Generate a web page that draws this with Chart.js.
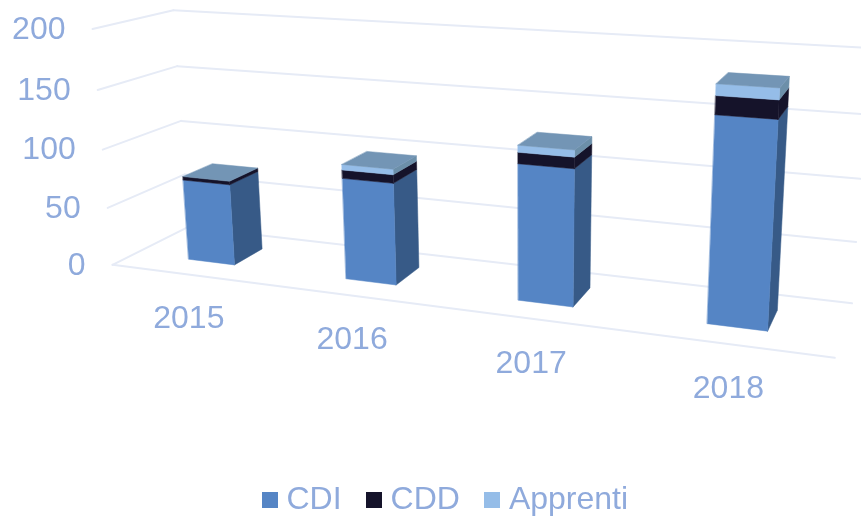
<!DOCTYPE html>
<html><head><meta charset="utf-8">
<style>html,body{margin:0;padding:0;background:#fff;overflow:hidden}canvas{display:block}</style>
<script src="https://cdn.jsdelivr.net/npm/chart.js@4"></script></head>
<body><canvas id="c" width="861" height="516"></canvas>
<script>
const years = ['2015','2016','2017','2018'];
const cdi = [70, 85, 110, 159];
const cdd = [3, 7, 9, 14];
const apprenti = [0, 4.5, 5.5, 8.5];
const yMax = 200, yStep = 50;
const frontColors = ['#5585c5','#15132a','#95bde8'];
const sideColors = ['#375a87','#15132a','#6c8fa9'];
const topColor = '#7395b5';
const gridColor = '#e6ebf6';
const textColor = '#8faadc';
const fontPx = 32;

// Camera calibration: unit-box corner (u,v,z) -> page position of the reference's 3D frame
const calib = [
 [0,0,0,112,265],[1,0,0,835,357],[0,0,1,189,226],[1,0,1,852,304],
 [0,1,1,173,10],[1,1,1,869,47.5],[0,1,0,93,29],
 [0,.75,0,98,90],[0,.5,0,103,150],[0,.25,0,107,208],
 [1,.25,1,856,242],[1,.5,1,860,179],[1,.75,1,865,114.3],
 [0,.25,1,185,175],[0,.5,1,181,121],[0,.75,1,177,66]
];
function fitCamera(pts){
  const n=11, A=Array.from({length:n},()=>new Array(n+1).fill(0));
  const add=(r,b)=>{for(let i=0;i<n;i++){for(let j=0;j<n;j++)A[i][j]+=r[i]*r[j];A[i][n]+=r[i]*b;}};
  for(const [u,v,z,x,y] of pts){
    add([u,v,z,1,0,0,0,0,-x*u,-x*v,-x*z],x);
    add([0,0,0,0,u,v,z,1,-y*u,-y*v,-y*z],y);
  }
  for(let c=0;c<n;c++){
    let m=c;for(let r=c+1;r<n;r++)if(Math.abs(A[r][c])>Math.abs(A[m][c]))m=r;
    [A[c],A[m]]=[A[m],A[c]];
    for(let r=0;r<n;r++){if(r===c)continue;const f=A[r][c]/A[c][c];for(let k=c;k<=n;k++)A[r][k]-=f*A[c][k];}
  }
  return A.map((row,i)=>row[n]/row[i]);
}
const P = fitCamera(calib);
function proj(u,v,z){
  const w=P[8]*u+P[9]*v+P[10]*z+1;
  return [(P[0]*u+P[1]*v+P[2]*z+P[3])/w,(P[4]*u+P[5]*v+P[6]*z+P[7])/w];
}
const zFront=0.30, zBack=0.70;
const yLabelGap=27, xLabelDx=0, xLabelDy=45;

function poly(ctx,pts,color){
  ctx.beginPath();pts.forEach((p,i)=>i?ctx.lineTo(p[0],p[1]):ctx.moveTo(p[0],p[1]));ctx.closePath();
  ctx.fillStyle=color;ctx.fill();ctx.strokeStyle=color;ctx.lineWidth=.5;ctx.stroke();
}
function line(ctx,a,b){ctx.beginPath();ctx.moveTo(a[0],a[1]);ctx.lineTo(b[0],b[1]);ctx.stroke();}

const scene3d = {
  id:'scene3d',
  beforeDatasetsDraw(chart){
    const ctx=chart.ctx, a=chart.chartArea, sy=chart.scales.y, sx=chart.scales.x;
    const U=px=>(px-a.left)/(a.right-a.left), V=px=>(a.bottom-px)/(a.bottom-a.top);
    ctx.save();
    // walls
    ctx.strokeStyle=gridColor;ctx.lineWidth=2;ctx.lineCap='round';
    sy.ticks.forEach(t=>{
      const v=V(sy.getPixelForValue(t.value));
      line(ctx,proj(0,v,0),proj(0,v,1));
      line(ctx,proj(0,v,1),proj(1,v,1));
    });
    line(ctx,proj(0,0,0),proj(1,0,0));
    // value labels
    ctx.font=fontPx+'px "Liberation Sans"';ctx.fillStyle=textColor;ctx.textBaseline='middle';ctx.textAlign='right';
    sy.ticks.forEach(t=>{
      const p=proj(0,V(sy.getPixelForValue(t.value)),0);
      ctx.fillText(t.label,p[0]-yLabelGap,p[1]+1);
    });
    // category labels
    ctx.textAlign='center';
    years.forEach((y,i)=>{
      const p=proj(U(sx.getPixelForValue(i)),0,0);
      ctx.fillText(y,p[0]+xLabelDx,p[1]+xLabelDy);
    });
    // bars
    years.forEach((y,i)=>{
      let top=null;
      chart.data.datasets.forEach((ds,d)=>{
        const el=chart.getDatasetMeta(d).data[i];
        const u0=U(el.x-el.width/2),u1=U(el.x+el.width/2),v0=V(el.base),v1=V(el.y);
        if(v1-v0<=0)return;
        poly(ctx,[proj(u1,v0,zFront),proj(u1,v0,zBack),proj(u1,v1,zBack),proj(u1,v1,zFront)],sideColors[d]);
        poly(ctx,[proj(u0,v0,zFront),proj(u1,v0,zFront),proj(u1,v1,zFront),proj(u0,v1,zFront)],frontColors[d]);
        top=[u0,u1,v1];
      });
      if(top){
        const [u0,u1,v]=top;
        poly(ctx,[proj(u0,v,zFront),proj(u1,v,zFront),proj(u1,v,zBack),proj(u0,v,zBack)],topColor);
      }
    });
    ctx.restore();
    return false;
  }
};
function swatch(color){
  const c=document.createElement('canvas');c.width=16;c.height=16;
  const g=c.getContext('2d');g.fillStyle=color;g.fillRect(0,0,16,16);return c;
}
Chart.defaults.font.family='"Liberation Sans"';
new Chart(document.getElementById('c'),{
  type:'bar',
  data:{labels:years,datasets:[
    {label:'CDI',data:cdi,backgroundColor:frontColors[0]},
    {label:'CDD',data:cdd,backgroundColor:frontColors[1]},
    {label:'Apprenti',data:apprenti,backgroundColor:frontColors[2]}
  ]},
  options:{
    responsive:false,animation:false,
    categoryPercentage:1,barPercentage:0.3,
    layout:{padding:{bottom:-10,left:36.6}},
    scales:{
      x:{stacked:true,display:false},
      y:{stacked:true,display:false,min:0,max:yMax,ticks:{stepSize:yStep}}
    },
    plugins:{
      tooltip:{enabled:false},
      legend:{position:'bottom',labels:{
        color:textColor,font:{size:fontPx},padding:32,boxHeight:16,
        usePointStyle:true,pointStyleWidth:1,
        generateLabels(chart){
          return Chart.defaults.plugins.legend.labels.generateLabels(chart).map((it,i)=>{
            it.pointStyle=swatch(frontColors[i]);return it;
          });
        }
      }}
    }
  },
  plugins:[scene3d]
});
</script></body></html>
